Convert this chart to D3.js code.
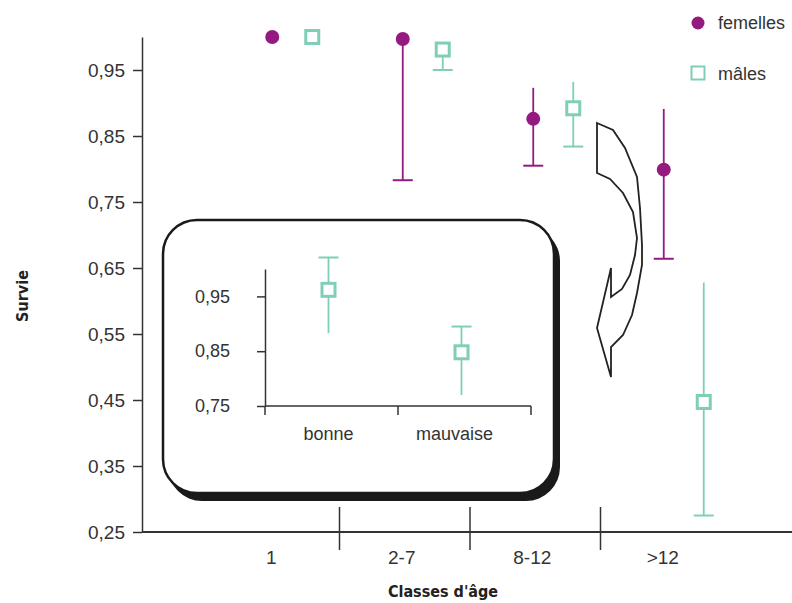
<!DOCTYPE html>
<html>
<head>
<meta charset="utf-8">
<script src="https://cdn.jsdelivr.net/npm/d3@7/dist/d3.min.js"></script>
<style>
  body { margin: 0; background: #fff; }
  text { font-family: "Liberation Sans", Arial, sans-serif; fill: #333; }
  .title { font-family: "Liberation Sans Narrow", "DejaVu Sans Condensed", sans-serif; font-weight: bold; font-size: 16px; fill: #222; }
</style>
</head>
<body>
<div id="chart"></div>
<script>
// age classes and survival estimates
let categories = ["1", "2-7", "8-12", ">12"];
let femelles = [1.0, 0.997, 0.876, 0.799];
let femLow = [null, 0.783, 0.805, 0.664];
let femHigh = [null, null, 0.923, 0.891];
let males = [1.0, 0.981, 0.892, 0.447];
let malLow = [null, 0.95, 0.834, 0.275];
let malHigh = [null, null, 0.932, 0.628];
let yTicks = [0.25, 0.35, 0.45, 0.55, 0.65, 0.75, 0.85, 0.95];

// inset: male survival by condition
let conditions = ["bonne", "mauvaise"];
let insetVal = [0.962, 0.848];
let insetLow = [0.883, 0.770];
let insetHigh = [1.021, 0.895];
let insetTicks = [0.75, 0.85, 0.95];

// outline of the curved arrow
let arrowPts = [[597,123],[613,130],[625,148],[637,177],[640,208],[642,245],[642,265],[637,293],[632,315],[623,335],[611,347],
  [611,377],[597,328],[611,268],[611,297],[622,289],[630,275],[635,255],[637,238],[633,212],[623,193],[610,179],[597,173]];

let width = 792, height = 603;
let purple = "#951a80", teal = "#7fcfb8", ink = "#333";
let fmt = d => d3.format(".2f")(d).replace(".", ",");

let svg = d3.select("#chart").append("svg")
    .attr("width", width)
    .attr("height", height);

let x = d3.scaleBand().domain(categories).range([209, 731]);
let y = d3.scaleLinear().domain([0.25, 1.0]).range([532, 37]);
let femOff = -2, malOff = 38;

// y axis
let yAxis = svg.append("g")
    .attr("transform", "translate(142,0)")
    .call(d3.axisLeft(y).tickValues(yTicks).tickFormat(fmt).tickSize(9).tickPadding(8).tickSizeOuter(0));
yAxis.select(".domain").attr("stroke", ink).attr("stroke-width", 1.5);
yAxis.selectAll(".tick line").attr("stroke", ink).attr("stroke-width", 1.5);
yAxis.selectAll(".tick text").attr("font-size", 19).attr("fill", ink).attr("font-family", "Liberation Sans, Arial, sans-serif");

// x axis baseline
svg.append("line")
    .attr("x1", 142).attr("x2", width)
    .attr("y1", y(0.25)).attr("y2", y(0.25))
    .attr("stroke", ink).attr("stroke-width", 2);

// separators between age classes
svg.selectAll(".sep").data(categories.slice(1)).enter()
    .append("line")
    .attr("x1", d => x(d)).attr("x2", d => x(d))
    .attr("y1", 507).attr("y2", 550)
    .attr("stroke", ink).attr("stroke-width", 1.5);

svg.selectAll(".catlab").data(categories).enter()
    .append("text")
    .attr("x", d => x(d) + x.bandwidth() / 2 - 3)
    .attr("y", 564)
    .attr("text-anchor", "middle")
    .attr("font-size", 19)
    .text(d => d);

// axis titles
svg.append("text").attr("class", "title")
    .attr("x", 443).attr("y", 597)
    .attr("text-anchor", "middle")
    .text("Classes d'âge");
svg.append("text").attr("class", "title")
    .attr("transform", "translate(28,296) rotate(-90)")
    .attr("text-anchor", "middle")
    .text("Survie");

// curved arrow
svg.append("path")
    .attr("d", d3.line()(arrowPts) + "Z")
    .attr("fill", "#fff").attr("stroke", "#222").attr("stroke-width", 1.8)
    .attr("stroke-linejoin", "miter");

// error bars: cap only at the lower end
function errBars(vals, lows, highs, dx, color) {
  let rows = categories.map((c, i) => ({c: c, v: vals[i], lo: lows[i], hi: highs[i]}));
  let g = svg.append("g");
  rows.forEach(function(d) {
    let cx = x(d.c) + x.bandwidth() / 2 + dx;
    if (d.lo != null) {
      g.append("line").attr("x1", cx).attr("x2", cx)
        .attr("y1", y(d.hi != null ? d.hi : d.v)).attr("y2", y(d.lo))
        .attr("stroke", color).attr("stroke-width", 1.8);
      g.append("line").attr("x1", cx - 10).attr("x2", cx + 10)
        .attr("y1", y(d.lo)).attr("y2", y(d.lo))
        .attr("stroke", color).attr("stroke-width", 2);
    }
  });
  return rows;
}

let femRows = errBars(femelles, femLow, femHigh, femOff, purple);
let malRows = errBars(males, malLow, malHigh, malOff, teal);

svg.selectAll(".fem").data(femRows).enter()
    .append("circle")
    .attr("cx", d => x(d.c) + x.bandwidth() / 2 + femOff)
    .attr("cy", d => y(d.v))
    .attr("r", 7)
    .attr("fill", purple);

svg.selectAll(".mal").data(malRows).enter()
    .append("rect")
    .attr("x", d => x(d.c) + x.bandwidth() / 2 + malOff - 6.5)
    .attr("y", d => y(d.v) - 6.5)
    .attr("width", 13).attr("height", 13)
    .attr("fill", "#fff").attr("stroke", teal).attr("stroke-width", 3);

// legend
svg.append("circle").attr("cx", 698).attr("cy", 23).attr("r", 6.5).attr("fill", purple);
svg.append("text").attr("x", 718).attr("y", 29).attr("font-size", 18).text("femelles");
svg.append("rect").attr("x", 691.5).attr("y", 66.5).attr("width", 13).attr("height", 13)
    .attr("fill", "#fff").attr("stroke", teal).attr("stroke-width", 2);
svg.append("text").attr("x", 718).attr("y", 80).attr("font-size", 18).text("mâles");

// inset box with shadow
svg.append("rect").attr("x", 168).attr("y", 227).attr("width", 392).attr("height", 274).attr("rx", 34)
    .attr("fill", "#1a1a1a");
svg.append("rect").attr("x", 163).attr("y", 220).attr("width", 391).attr("height", 273).attr("rx", 34)
    .attr("fill", "#fff").attr("stroke", "#1a1a1a").attr("stroke-width", 2.5);

let xi = d3.scaleBand().domain(conditions).range([265, 531]);
let yi = d3.scaleLinear().domain([0.75, 1.0]).range([406, 269]);

let inset = svg.append("g");
let yiAxis = inset.append("g")
    .attr("transform", "translate(265,0)")
    .call(d3.axisLeft(yi).tickValues(insetTicks).tickFormat(fmt).tickSize(8).tickPadding(27).tickSizeOuter(0));
yiAxis.select(".domain").attr("stroke", ink).attr("stroke-width", 1.5);
yiAxis.selectAll(".tick line").attr("stroke", ink).attr("stroke-width", 1.5);
yiAxis.selectAll(".tick text").attr("font-size", 18).attr("fill", ink).attr("font-family", "Liberation Sans, Arial, sans-serif");

inset.append("line").attr("x1", 265).attr("x2", 531).attr("y1", yi(0.75)).attr("y2", yi(0.75))
    .attr("stroke", ink).attr("stroke-width", 1.5);
inset.selectAll(".itick").data([265, 265 + xi.step(), 531]).enter()
    .append("line")
    .attr("x1", d => d).attr("x2", d => d)
    .attr("y1", yi(0.75)).attr("y2", yi(0.75) + 9)
    .attr("stroke", ink).attr("stroke-width", 1.5);

let insetRows = conditions.map((c, i) => ({c: c, v: insetVal[i], lo: insetLow[i], hi: insetHigh[i]}));
let ix = d => xi(d.c) + xi.bandwidth() / 2 - 3;

inset.selectAll(".ilab").data(insetRows).enter()
    .append("text")
    .attr("x", (d, i) => ix(d) - i * 7)
    .attr("y", 440)
    .attr("text-anchor", "middle")
    .attr("font-size", 18)
    .text(d => d.c);

// inset error bars: cap only at the upper end
inset.selectAll(".ibar").data(insetRows).enter()
    .append("line")
    .attr("x1", ix).attr("x2", ix)
    .attr("y1", d => yi(d.hi)).attr("y2", d => yi(d.lo))
    .attr("stroke", teal).attr("stroke-width", 1.8);
inset.selectAll(".icap").data(insetRows).enter()
    .append("line")
    .attr("x1", d => ix(d) - 10).attr("x2", d => ix(d) + 10)
    .attr("y1", d => yi(d.hi)).attr("y2", d => yi(d.hi))
    .attr("stroke", teal).attr("stroke-width", 2);
inset.selectAll(".ipt").data(insetRows).enter()
    .append("rect")
    .attr("x", d => ix(d) - 6.5)
    .attr("y", d => yi(d.v) - 6.5)
    .attr("width", 13).attr("height", 13)
    .attr("fill", "#fff").attr("stroke", teal).attr("stroke-width", 3);
</script>
</body>
</html>
